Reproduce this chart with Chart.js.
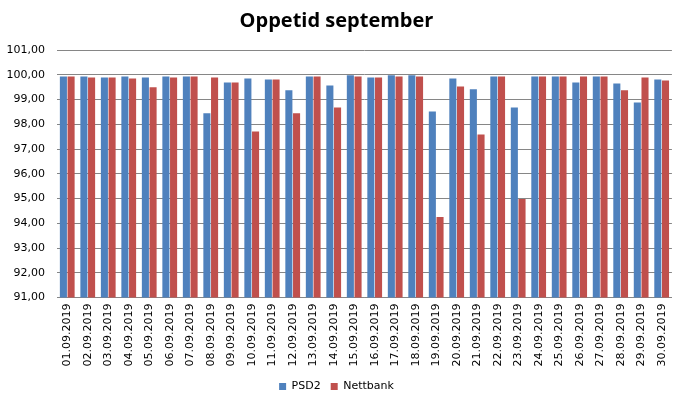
<!DOCTYPE html>
<html>
<head>
<meta charset="utf-8">
<script src="https://cdn.jsdelivr.net/npm/chart.js@4/dist/chart.umd.min.js"></script>
<style>
html,body{margin:0;padding:0;background:#fff;}
#wrap{width:681px;height:399px;}
</style>
</head>
<body>
<div id="wrap"><canvas id="c" width="681" height="399"></canvas></div>
<script>
const categories = ["01.09.2019","02.09.2019","03.09.2019","04.09.2019","05.09.2019","06.09.2019","07.09.2019","08.09.2019","09.09.2019","10.09.2019","11.09.2019","12.09.2019","13.09.2019","14.09.2019","15.09.2019","16.09.2019","17.09.2019","18.09.2019","19.09.2019","20.09.2019","21.09.2019","22.09.2019","23.09.2019","24.09.2019","25.09.2019","26.09.2019","27.09.2019","28.09.2019","29.09.2019","30.09.2019"];
const psd2 = [99.93,99.93,99.89,99.93,99.89,99.93,99.93,98.44,99.69,99.85,99.81,99.37,99.93,99.57,99.98,99.89,99.98,99.98,98.52,99.85,99.41,99.93,98.68,99.93,99.93,99.69,99.93,99.65,98.88,99.81];
const nettbank = [99.93,99.89,99.89,99.85,99.49,99.89,99.93,99.89,99.69,97.71,99.81,98.44,99.93,98.68,99.93,99.89,99.93,99.93,94.25,99.53,97.59,99.93,94.98,99.93,99.93,99.93,99.93,99.37,99.89,99.77];
const yMin = 91, yMax = 101, yStep = 1;

const ctx = document.getElementById('c').getContext('2d');
new Chart(ctx, {
  type: 'bar',
  data: {
    labels: categories,
    datasets: [
      {label: 'PSD2', data: psd2, backgroundColor: '#4F81BD', borderWidth: 0, categoryPercentage: 0.75, barPercentage: 0.92},
      {label: 'Nettbank', data: nettbank, backgroundColor: '#C0504D', borderWidth: 0, categoryPercentage: 0.75, barPercentage: 0.92}
    ]
  },
  options: {
    responsive: false,
    animation: false,
    devicePixelRatio: 1,
    layout: {padding: {left: 0, right: 8, top: 0, bottom: -3}},
    plugins: {
      title: {
        display: true,
        text: 'Oppetid september',
        color: '#000',
        font: {family: '"Open Sans", sans-serif', size: 20, weight: 'bold'},
        padding: {top: 9, bottom: 17}
      },
      legend: {
        display: true,
        position: 'bottom',
        labels: {
          boxWidth: 7, boxHeight: 7, padding: 10,
          color: '#000',
          font: {family: '"DejaVu Sans", sans-serif', size: 11}
        }
      },
      tooltip: {enabled: false}
    },
    scales: {
      x: {
        afterFit: s => { s.height = 73.5; },
        grid: {display: false, drawTicks: false},
        border: {display: true, color: '#868686', width: 1},
        ticks: {
          autoSkip: false, maxRotation: 90, minRotation: 90,
          color: '#000', padding: 6,
          font: {family: '"DejaVu Sans", sans-serif', size: 11}
        }
      },
      y: {
        afterFit: s => { s.width = 57; },
        min: yMin, max: yMax,
        grid: {color: '#868686', lineWidth: 1, drawTicks: false},
        border: {display: false},
        ticks: {
          stepSize: yStep, color: '#000', padding: 12,
          font: {family: '"DejaVu Sans", sans-serif', size: 11},
          callback: v => v.toFixed(2).replace('.', ',')
        }
      }
    }
  }
});
</script>
</body>
</html>
